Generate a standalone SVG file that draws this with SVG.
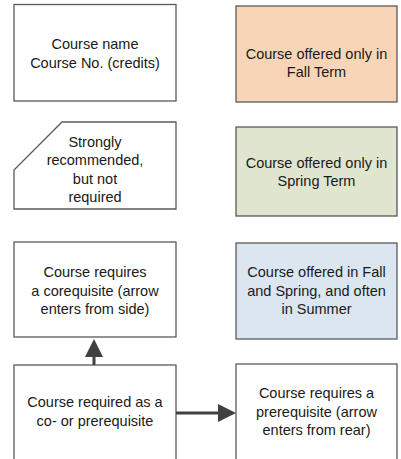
<svg xmlns="http://www.w3.org/2000/svg" width="401" height="459" viewBox="0 0 401 459">
<style>
.box{stroke:#5a5a5a;stroke-width:1.3;fill:#ffffff}
.fall{fill:#f9d5b7}
.spring{fill:#e0e5cf}
.both{fill:#dce6f0}
text{font-family:"Liberation Sans",Arial,sans-serif;font-size:14.5px;fill:#1a1a1a;text-anchor:middle}
.conn{stroke:#404040;stroke-width:3;fill:none}
.head{fill:#404040}
</style>
<rect width="401" height="459" fill="#ffffff"/>
<g id="course-legend">
<rect class="box" x="14" y="4.5" width="162" height="96.5"/>
<text x="95" y="49">Course name</text>
<text x="95" y="68">Course No. (credits)</text>
</g>
<g id="fall-term">
<rect class="box fall" x="236" y="6" width="161" height="96"/>
<text x="316.5" y="59">Course offered only in</text>
<text x="316.5" y="77">Fall Term</text>
</g>
<g id="strongly-recommended">
<path class="box" d="M62,122 H176 V209 H14 V170 Z"/>
<text x="95" y="147">Strongly</text>
<text x="95" y="165">recommended,</text>
<text x="95" y="184">but not</text>
<text x="95" y="202">required</text>
</g>
<g id="spring-term">
<rect class="box spring" x="236" y="127" width="161" height="89"/>
<text x="316.5" y="168">Course offered only in</text>
<text x="316.5" y="186">Spring Term</text>
</g>
<g id="corequisite">
<rect class="box" x="14" y="242" width="162" height="95"/>
<text x="95" y="277">Course requires</text>
<text x="95" y="296">a corequisite (arrow</text>
<text x="95" y="314">enters from side)</text>
</g>
<g id="fall-spring-summer">
<rect class="box both" x="236" y="243" width="161" height="96"/>
<text x="316.5" y="277">Course offered in Fall</text>
<text x="316.5" y="296">and Spring, and often</text>
<text x="316.5" y="314">in Summer</text>
</g>
<g id="required-co-pre">
<rect class="box" x="14" y="365" width="162" height="110"/>
<text x="95" y="407">Course required as a</text>
<text x="95" y="426">co- or prerequisite</text>
</g>
<g id="prerequisite">
<rect class="box" x="236" y="364" width="161" height="110"/>
<text x="316.5" y="398">Course requires a</text>
<text x="316.5" y="417">prerequisite (arrow</text>
<text x="316.5" y="435">enters from rear)</text>
</g>
<g id="connectors">
<line class="conn" x1="94" y1="365" x2="94" y2="356"/>
<polygon class="head" points="85,357 103,357 94,339"/>
<line class="conn" x1="176" y1="413" x2="219" y2="413"/>
<polygon class="head" points="218,404 218,422 236,413"/>
</g>
</svg>
